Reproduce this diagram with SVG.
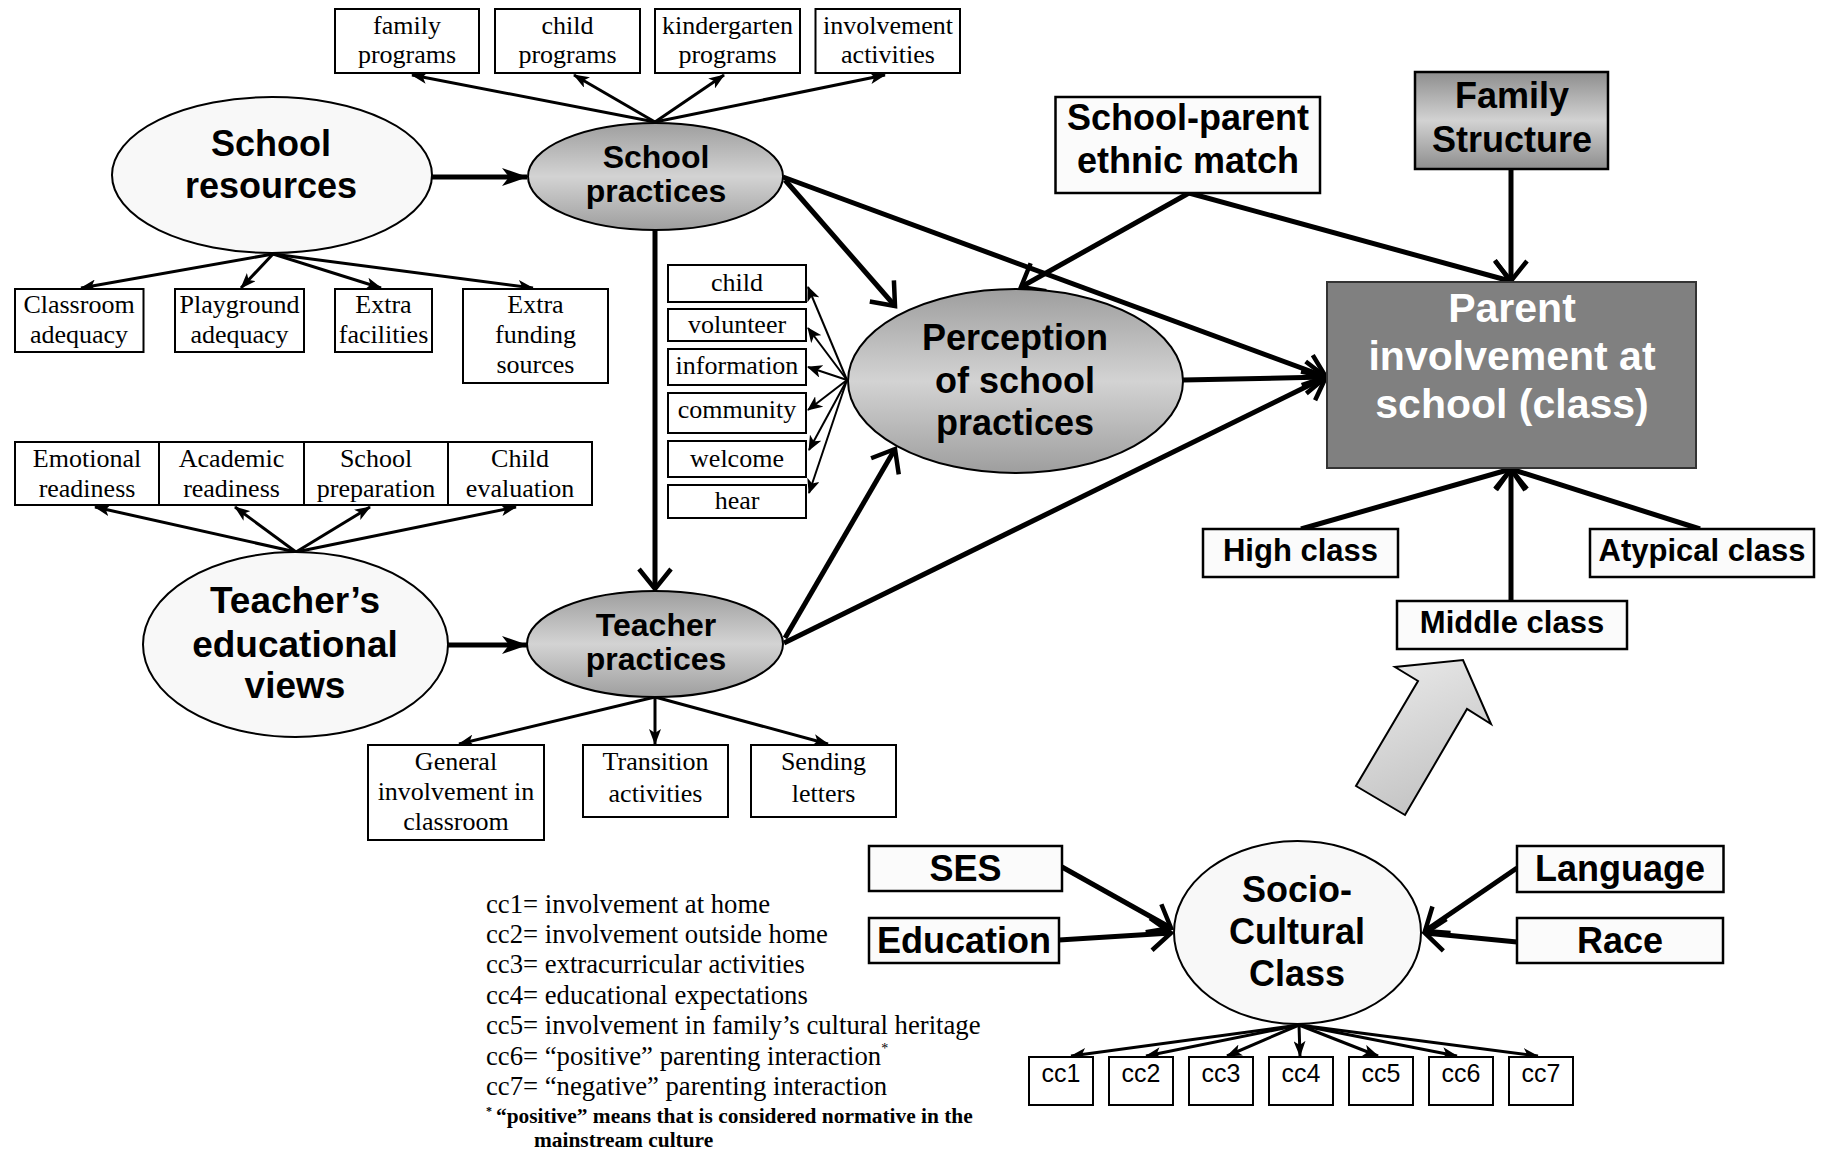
<svg xmlns="http://www.w3.org/2000/svg" width="1827" height="1151" viewBox="0 0 1827 1151">
<style>
.bx{fill:#fff;stroke:#000;stroke-width:2}
.bxb{fill:#fbfbfb;stroke:#000;stroke-width:2.5}
.el{fill:#f8f8f8;stroke:#000;stroke-width:2}
.elg{fill:url(#gE);stroke:#000;stroke-width:2}
.tb{font-family:"Liberation Sans",Arial,sans-serif;font-weight:bold;text-anchor:middle;fill:#000}
.ts{font-family:"Liberation Serif","Times New Roman",serif;font-size:26px;text-anchor:middle;fill:#000}
.tc{font-family:"Liberation Sans",Arial,sans-serif;font-size:25px;text-anchor:middle;fill:#000}
.leg{font-family:"Liberation Serif","Times New Roman",serif;font-size:26.7px;fill:#000}
.fn{font-family:"Liberation Serif","Times New Roman",serif;font-size:21.4px;font-weight:bold;fill:#000}
.th{stroke:#000;stroke-width:3;fill:none;marker-end:url(#ah)}
.tn{stroke:#000;stroke-width:2;fill:none;marker-end:url(#ahs)}
.tk{stroke:#000;stroke-width:5;fill:none;marker-end:url(#av)}
.tks{stroke:#000;stroke-width:5;fill:none;marker-end:url(#as)}
</style>
<defs>
<linearGradient id="gE" x1="0" y1="0" x2="0" y2="1">
<stop offset="0" stop-color="#9e9e9e"/><stop offset="0.5" stop-color="#d3d3d3"/><stop offset="1" stop-color="#9e9e9e"/>
</linearGradient>
<linearGradient id="gF" x1="0" y1="0" x2="0" y2="1">
<stop offset="0" stop-color="#8e8e8e"/><stop offset="0.5" stop-color="#d2d2d2"/><stop offset="1" stop-color="#8e8e8e"/>
</linearGradient>
<linearGradient id="gA" x1="0" y1="0" x2="0.4" y2="1">
<stop offset="0" stop-color="#ececec"/><stop offset="1" stop-color="#c4c4c4"/>
</linearGradient>
<marker id="ah" markerUnits="userSpaceOnUse" viewBox="0 0 16 12" markerWidth="16" markerHeight="12" refX="15" refY="6" orient="auto">
<path d="M0,0 L16,6 L0,12 L4,6 z" fill="#000"/>
</marker>
<marker id="ahs" markerUnits="userSpaceOnUse" viewBox="0 0 15 13" markerWidth="15" markerHeight="13" refX="14" refY="6.5" orient="auto">
<path d="M0,0 L15,6.5 L0,13 L4,6.5 z" fill="#000"/>
</marker>
<marker id="as" markerUnits="userSpaceOnUse" viewBox="0 0 26 18" markerWidth="26" markerHeight="18" refX="25" refY="9" orient="auto">
<path d="M0,0 L26,9 L0,18 L7,9 z" fill="#000"/>
</marker>
<marker id="av" markerUnits="userSpaceOnUse" viewBox="0 0 26 36" markerWidth="26" markerHeight="36" refX="22" refY="18" orient="auto" overflow="visible">
<path d="M2,2 L22,18 L2,34" fill="none" stroke="#000" stroke-width="4.5" stroke-linejoin="miter"/>
</marker>
</defs>
<rect width="1827" height="1151" fill="#fff"/>

<g id="connectors">
<line class="tks" x1="432" y1="177" x2="527" y2="177"/>
<line class="th" x1="655" y1="122" x2="412" y2="75"/>
<line class="th" x1="655" y1="122" x2="574" y2="75"/>
<line class="th" x1="655" y1="122" x2="724" y2="75"/>
<line class="th" x1="655" y1="122" x2="885" y2="75"/>
<line class="th" x1="273" y1="254" x2="81" y2="288"/>
<line class="th" x1="273" y1="254" x2="241" y2="288"/>
<line class="th" x1="273" y1="254" x2="381" y2="288"/>
<line class="th" x1="273" y1="254" x2="533" y2="288"/>
<line class="tk" x1="655" y1="230" x2="655" y2="589"/>
<line class="tk" x1="785" y1="180" x2="895" y2="306"/>
<line class="tk" x1="783" y1="177" x2="1326" y2="377"/>
<line class="tk" x1="1189" y1="193" x2="1021" y2="287"/>
<line class="tk" x1="1189" y1="193" x2="1510" y2="281"/>
<line class="tk" x1="1511" y1="169" x2="1511" y2="281"/>
<line class="tk" x1="1183" y1="380" x2="1326" y2="377"/>
<line class="tk" x1="785" y1="638" x2="895" y2="449"/>
<line class="tk" x1="784" y1="643" x2="1326" y2="377"/>
<line class="tn" x1="847" y1="380" x2="808" y2="287"/>
<line class="tn" x1="847" y1="380" x2="808" y2="328"/>
<line class="tn" x1="847" y1="380" x2="808" y2="367"/>
<line class="tn" x1="847" y1="380" x2="808" y2="410"/>
<line class="tn" x1="847" y1="380" x2="809" y2="450"/>
<line class="tn" x1="847" y1="380" x2="809" y2="493"/>
<line class="tks" x1="448" y1="645" x2="527" y2="645"/>
<line class="th" x1="296" y1="552" x2="95" y2="507"/>
<line class="th" x1="296" y1="552" x2="235" y2="507"/>
<line class="th" x1="296" y1="552" x2="370" y2="507"/>
<line class="th" x1="296" y1="552" x2="516" y2="507"/>
<line class="th" x1="655" y1="697" x2="459" y2="744"/>
<line class="th" x1="655" y1="697" x2="655" y2="744"/>
<line class="th" x1="655" y1="697" x2="828" y2="744"/>
<line class="tk" x1="1301" y1="529" x2="1511" y2="469"/>
<line class="tk" x1="1511" y1="601" x2="1511" y2="469"/>
<line class="tk" x1="1700" y1="529" x2="1511" y2="469"/>
<line class="tk" x1="1062" y1="867" x2="1171" y2="928"/>
<line class="tk" x1="1059" y1="940" x2="1171" y2="933"/>
<line class="tk" x1="1517" y1="868" x2="1425" y2="931"/>
<line class="tk" x1="1517" y1="942" x2="1425" y2="933"/>
<line class="th" x1="1299" y1="1025" x2="1071" y2="1056"/>
<line class="th" x1="1299" y1="1025" x2="1146" y2="1056"/>
<line class="th" x1="1299" y1="1025" x2="1227" y2="1056"/>
<line class="th" x1="1299" y1="1025" x2="1300" y2="1056"/>
<line class="th" x1="1299" y1="1025" x2="1378" y2="1056"/>
<line class="th" x1="1299" y1="1025" x2="1457" y2="1056"/>
<line class="th" x1="1299" y1="1025" x2="1538" y2="1056"/>
<polygon points="1356,786 1405,815 1467,709 1491,724 1463,660 1395,667 1418,681" fill="url(#gA)" stroke="#000" stroke-width="2" stroke-linejoin="miter"/>
</g>

<g id="school-resources">
<ellipse class="el" cx="272" cy="175" rx="160" ry="78"/>
<text class="tb" font-size="36" x="271" y="156">School</text>
<text class="tb" font-size="36" x="271" y="198">resources</text>
</g>
<g id="school-practices">
<ellipse class="elg" cx="655.5" cy="176.5" rx="127.5" ry="53.5"/>
<text class="tb" font-size="32" x="656" y="168">School</text>
<text class="tb" font-size="32" x="656" y="202">practices</text>
</g>
<g id="family-programs"><rect class="bx" x="335" y="9" width="144" height="64"/><text class="ts" x="407" y="34">family</text><text class="ts" x="407" y="63">programs</text></g>
<g id="child-programs"><rect class="bx" x="495" y="9" width="145" height="64"/><text class="ts" x="567.5" y="34">child</text><text class="ts" x="567.5" y="63">programs</text></g>
<g id="kindergarten-programs"><rect class="bx" x="655" y="9" width="145" height="64"/><text class="ts" x="727.5" y="34">kindergarten</text><text class="ts" x="727.5" y="63">programs</text></g>
<g id="involvement-activities"><rect class="bx" x="815.5" y="9" width="144.5" height="64"/><text class="ts" x="888" y="34">involvement</text><text class="ts" x="888" y="63">activities</text></g>

<g id="classroom-adequacy"><rect class="bx" x="15" y="289" width="128.5" height="63"/><text class="ts" x="79" y="313">Classroom</text><text class="ts" x="79" y="343">adequacy</text></g>
<g id="playground-adequacy"><rect class="bx" x="175" y="289" width="129" height="63"/><text class="ts" x="239.5" y="313">Playground</text><text class="ts" x="239.5" y="343">adequacy</text></g>
<g id="extra-facilities"><rect class="bx" x="335" y="289" width="97" height="63"/><text class="ts" x="383.5" y="313">Extra</text><text class="ts" x="383.5" y="343">facilities</text></g>
<g id="extra-funding"><rect class="bx" x="463" y="289" width="145" height="94"/><text class="ts" x="535.5" y="313">Extra</text><text class="ts" x="535.5" y="343">funding</text><text class="ts" x="535.5" y="373">sources</text></g>

<g id="emotional-readiness"><rect class="bx" x="15" y="442" width="144" height="63"/><text class="ts" x="87" y="467">Emotional</text><text class="ts" x="87" y="497">readiness</text></g>
<g id="academic-readiness"><rect class="bx" x="159" y="442" width="145" height="63"/><text class="ts" x="231.5" y="467">Academic</text><text class="ts" x="231.5" y="497">readiness</text></g>
<g id="school-preparation"><rect class="bx" x="304" y="442" width="144" height="63"/><text class="ts" x="376" y="467">School</text><text class="ts" x="376" y="497">preparation</text></g>
<g id="child-evaluation"><rect class="bx" x="448" y="442" width="144" height="63"/><text class="ts" x="520" y="467">Child</text><text class="ts" x="520" y="497">evaluation</text></g>

<g id="teachers-views">
<ellipse class="el" cx="295.5" cy="644.5" rx="152.5" ry="92.5"/>
<text class="tb" font-size="37" x="295" y="613">Teacher’s</text>
<text class="tb" font-size="37" x="295" y="657">educational</text>
<text class="tb" font-size="37" x="295" y="698">views</text>
</g>
<g id="teacher-practices">
<ellipse class="elg" cx="655" cy="644" rx="128" ry="53"/>
<text class="tb" font-size="32" x="656" y="636">Teacher</text>
<text class="tb" font-size="32" x="656" y="670">practices</text>
</g>
<g id="general-involvement"><rect class="bx" x="368" y="745" width="176" height="95"/><text class="ts" x="456" y="770">General</text><text class="ts" x="456" y="800">involvement in</text><text class="ts" x="456" y="830">classroom</text></g>
<g id="transition-activities"><rect class="bx" x="583" y="745" width="145" height="72"/><text class="ts" x="655.5" y="770">Transition</text><text class="ts" x="655.5" y="802">activities</text></g>
<g id="sending-letters"><rect class="bx" x="751" y="745" width="145" height="72"/><text class="ts" x="823.5" y="770">Sending</text><text class="ts" x="823.5" y="802">letters</text></g>

<g id="pc-child"><rect class="bx" x="668" y="265" width="138" height="37"/><text class="ts" x="737" y="291">child</text></g>
<g id="pc-volunteer"><rect class="bx" x="668" y="309" width="138" height="32"/><text class="ts" x="737" y="333">volunteer</text></g>
<g id="pc-information"><rect class="bx" x="668" y="349" width="138" height="36"/><text class="ts" x="737" y="374">information</text></g>
<g id="pc-community"><rect class="bx" x="668" y="393" width="138" height="40"/><text class="ts" x="737" y="418">community</text></g>
<g id="pc-welcome"><rect class="bx" x="668" y="441" width="138" height="36"/><text class="ts" x="737" y="467">welcome</text></g>
<g id="pc-hear"><rect class="bx" x="668" y="485" width="138" height="33"/><text class="ts" x="737" y="509">hear</text></g>

<g id="perception">
<ellipse class="elg" cx="1015.5" cy="381" rx="167.5" ry="92"/>
<text class="tb" font-size="36" x="1015" y="350">Perception</text>
<text class="tb" font-size="36" x="1015" y="393">of school</text>
<text class="tb" font-size="36" x="1015" y="435">practices</text>
</g>
<g id="ethnic-match">
<rect class="bxb" x="1055.5" y="97" width="264.5" height="96"/>
<text class="tb" font-size="36" x="1188" y="130">School-parent</text>
<text class="tb" font-size="36" x="1188" y="173">ethnic match</text>
</g>
<g id="family-structure">
<rect x="1415" y="72" width="193" height="97" fill="url(#gF)" stroke="#000" stroke-width="2.5"/>
<text class="tb" font-size="36" x="1512" y="108">Family</text>
<text class="tb" font-size="36" x="1512" y="152">Structure</text>
</g>
<g id="parent-involvement">
<rect x="1327" y="282" width="369" height="186" fill="#808080" stroke="#333" stroke-width="2"/>
<text class="tb" font-size="41" x="1512" y="322" style="fill:#fff">Parent</text>
<text class="tb" font-size="41" x="1512" y="370" style="fill:#fff">involvement at</text>
<text class="tb" font-size="41" x="1512" y="418" style="fill:#fff">school (class)</text>
</g>
<g id="high-class"><rect class="bxb" x="1203" y="529" width="195" height="48"/><text class="tb" font-size="31" x="1300.5" y="561">High class</text></g>
<g id="atypical-class"><rect class="bxb" x="1590" y="529" width="224" height="48"/><text class="tb" font-size="31" x="1702" y="561">Atypical class</text></g>
<g id="middle-class"><rect class="bxb" x="1397" y="601" width="230" height="48"/><text class="tb" font-size="31" x="1512" y="633">Middle class</text></g>

<g id="ses"><rect class="bxb" x="869" y="846" width="193" height="45"/><text class="tb" font-size="36" x="965.5" y="881">SES</text></g>
<g id="education"><rect class="bxb" x="869" y="918" width="190" height="45"/><text class="tb" font-size="36" x="964" y="953">Education</text></g>
<g id="language"><rect class="bxb" x="1517" y="846" width="206.5" height="46"/><text class="tb" font-size="36" x="1620" y="881">Language</text></g>
<g id="race"><rect class="bxb" x="1517" y="918" width="206" height="45"/><text class="tb" font-size="36" x="1620" y="953">Race</text></g>
<g id="socio-cultural">
<ellipse class="el" cx="1297.5" cy="932.5" rx="123.5" ry="91.5"/>
<text class="tb" font-size="36" x="1297" y="902">Socio-</text>
<text class="tb" font-size="36" x="1297" y="944">Cultural</text>
<text class="tb" font-size="36" x="1297" y="986">Class</text>
</g>
<g id="cc1"><rect class="bx" x="1029" y="1057" width="64" height="48"/><text class="tc" x="1061" y="1082">cc1</text></g>
<g id="cc2"><rect class="bx" x="1109" y="1057" width="64" height="48"/><text class="tc" x="1141" y="1082">cc2</text></g>
<g id="cc3"><rect class="bx" x="1189" y="1057" width="64" height="48"/><text class="tc" x="1221" y="1082">cc3</text></g>
<g id="cc4"><rect class="bx" x="1269" y="1057" width="64" height="48"/><text class="tc" x="1301" y="1082">cc4</text></g>
<g id="cc5"><rect class="bx" x="1349" y="1057" width="64" height="48"/><text class="tc" x="1381" y="1082">cc5</text></g>
<g id="cc6"><rect class="bx" x="1429" y="1057" width="64" height="48"/><text class="tc" x="1461" y="1082">cc6</text></g>
<g id="cc7"><rect class="bx" x="1509" y="1057" width="64" height="48"/><text class="tc" x="1541" y="1082">cc7</text></g>

<g id="legend">
<text class="leg" x="486" y="913">cc1= involvement at home</text>
<text class="leg" x="486" y="943">cc2= involvement outside home</text>
<text class="leg" x="486" y="973">cc3= extracurricular activities</text>
<text class="leg" x="486" y="1004">cc4= educational expectations</text>
<text class="leg" x="486" y="1034">cc5= involvement in family’s cultural heritage</text>
<text class="leg" x="486" y="1065">cc6= “positive” parenting interaction<tspan font-size="14" dy="-12">*</tspan></text>
<text class="leg" x="486" y="1095">cc7= “negative” parenting interaction</text>
<text class="fn" x="486" y="1123"><tspan font-size="12" dy="-8">*</tspan><tspan dx="4" dy="8">“positive” means that is considered normative in the</tspan></text>
<text class="fn" x="534" y="1147">mainstream culture</text>
</g>
</svg>
